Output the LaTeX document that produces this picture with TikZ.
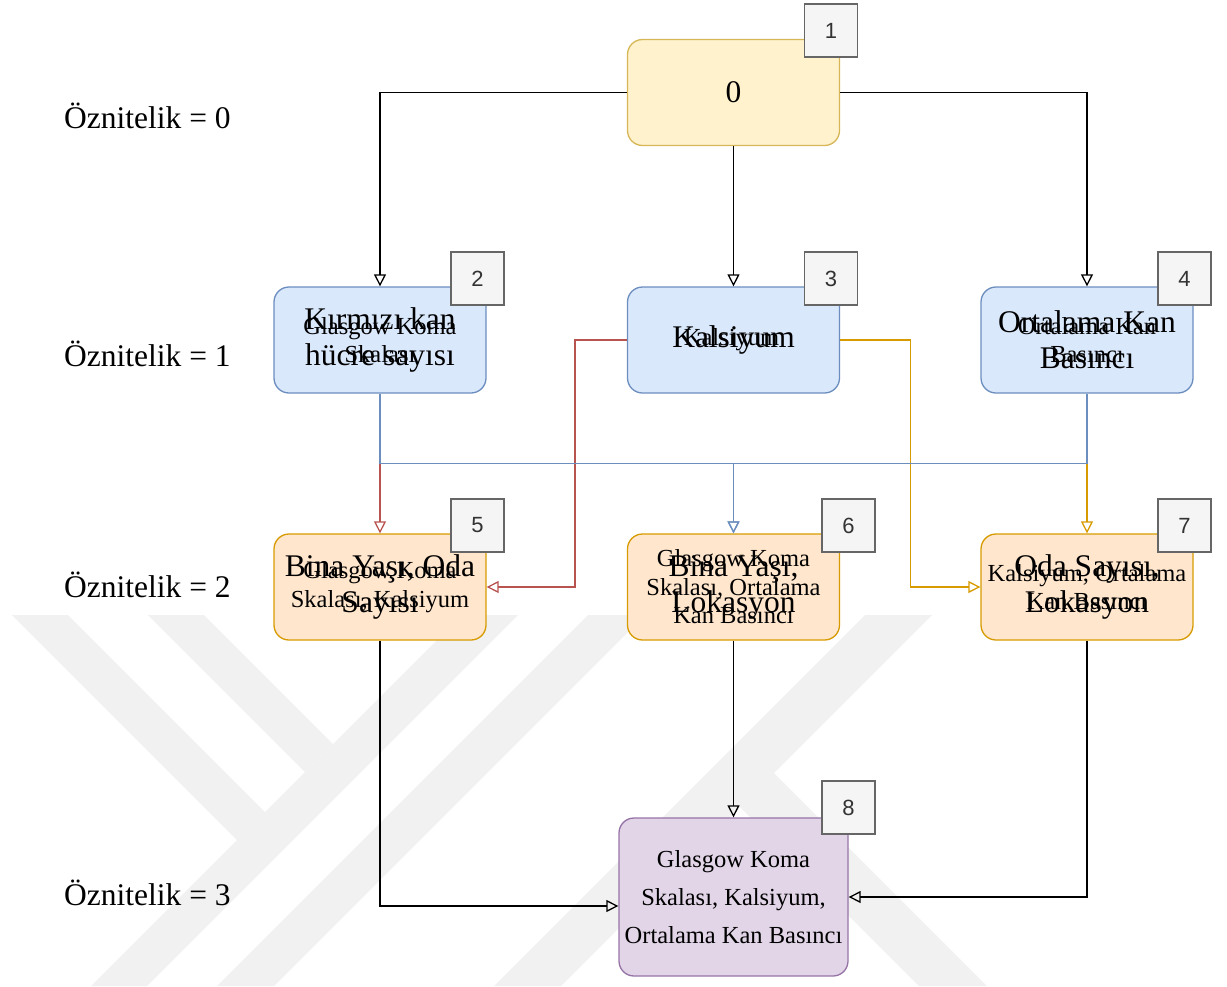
\documentclass[tikz,border=0pt]{standalone}
\usepackage{fontspec}
\setmainfont{Liberation Serif}
\newfontfamily\badgefont{Liberation Sans}
\usetikzlibrary{arrows.meta}

\definecolor{wmark}{RGB}{241,241,241}
\definecolor{yelfill}{HTML}{FFF2CC}\definecolor{yeldraw}{HTML}{D6B656}
\definecolor{blufill}{HTML}{DAE8FC}\definecolor{bludraw}{HTML}{6C8EBF}
\definecolor{orafill}{HTML}{FFE6CC}\definecolor{oradraw}{HTML}{D79B00}
\definecolor{purfill}{HTML}{E1D5E7}\definecolor{purdraw}{HTML}{9673A6}
\definecolor{rededge}{HTML}{B85450}
\definecolor{badgefill}{HTML}{F5F5F5}\definecolor{badgedraw}{HTML}{666666}
\definecolor{badgetext}{HTML}{333333}

\tikzset{
  box/.style={draw, rounded corners=15pt, line width=1.3pt, inner sep=0pt,
    minimum width=212pt, minimum height=106pt},
  levelbox/.style={box, fill=yelfill, draw=yeldraw},
  attrbox/.style={box, fill=blufill, draw=bludraw},
  pairbox/.style={box, fill=orafill, draw=oradraw},
  triplebox/.style={box, fill=purfill, draw=purdraw, minimum width=229pt, minimum height=158pt},
  badge/.style={draw=badgedraw, fill=badgefill, line width=1.2pt, minimum width=53pt,
    minimum height=53pt, inner sep=0pt, text=badgetext, font=\badgefont\fontsize{22}{26}\selectfont},
  bigtxt/.style={align=center, inner sep=0pt, font=\fontsize{31.5}{36}\selectfont},
  smalltxt/.style={align=center, inner sep=0pt, font=\fontsize{24.5}{28.5}\selectfont},
  lvl/.style={anchor=base west, inner sep=0pt, font=\fontsize{31.5}{36}\selectfont},
  conn/.style={line width=1.3pt, -{Triangle[open, length=12pt, width=12pt]}},
}

\begin{document}
\begin{tikzpicture}[x=1pt, y=-1pt]
\useasboundingbox (0,0) rectangle (1227,986);

% faint striped emblem in the lower half
\begin{scope}[fill=wmark]
  \fill (462,615) -- (518,615) -- (147,986) -- (91,986) -- cycle;
  \fill (588,615) -- (645,615) -- (274,986) -- (217,986) -- cycle;
  \fill (12,615) -- (68,615) -- (266,813) -- (238,841) -- cycle;
  \fill (148,615) -- (204,615) -- (333,744) -- (305,772) -- cycle;
  \fill (865,615) -- (932,615) -- (561,986) -- (494,986) -- cycle;
  \fill (738,805) -- (772,771) -- (987,986) -- (919,986) -- cycle;
\end{scope}

% level labels
\node[lvl] (l0) at (64,128) {Öznitelik = 0};
\node[lvl] (l1) at (64,366) {Öznitelik = 1};
\node[lvl] (l2) at (64,597) {Öznitelik = 2};
\node[lvl] (l3) at (64,905) {Öznitelik = 3};

% boxes
\node[levelbox] (b0) at (733.5,92.5) {};
\node[bigtxt] at (b0) {0};

\node[attrbox] (b2) at (380,340) {};
\node[smalltxt] at (b2) {Glasgow Koma\\Skalası};
\node[bigtxt] at (b2) {Kırmızı kan\\hücre sayısı};

\node[attrbox] (b3) at (733.5,340) {};
\node[smalltxt] at ([xshift=-2pt]b3) {Kalsiyum};
\node[bigtxt] at (b3) {Kalsiyum};

\node[attrbox] (b4) at (1087,340) {};
\node[smalltxt] at (b4) {Ortalama Kan\\Basıncı};
\node[bigtxt] at (b4) {Ortalama Kan\\Basıncı};

\node[pairbox] (b5) at (380,587) {};
\node[smalltxt] at (b5) {Glasgow Koma\\Skalası, Kalsiyum};
\node[bigtxt] at (b5) {Bina Yaşı, Oda\\Sayısı};

\node[pairbox] (b6) at (733.5,587) {};
\node[smalltxt] at (b6) {Glasgow Koma\\Skalası, Ortalama\\Kan Basıncı};
\node[bigtxt] at (b6) {Bina Yaşı,\\Lokasyon};

\node[pairbox] (b7) at (1087,587) {};
\node[smalltxt] at (b7) {Kalsiyum, Ortalama\\Kan Basıncı};
\node[bigtxt] at (b7) {Oda Sayısı,\\Lokasyon};

\node[triplebox] (b8) at (733.5,897) {};
\node[align=center, inner sep=0pt, font=\fontsize{24.5}{38}\selectfont] at (b8)
  {Glasgow Koma\\Skalası, Kalsiyum,\\Ortalama\ Kan\ Basıncı};

% connectors
\draw[conn] (b0.west) -| (b2.north);
\draw[conn] (b0.south) -- (b3.north);
\draw[conn] (b0.east) -| (b4.north);

\draw[conn, rededge] (b2.south) -- (b5.north);
\draw[conn, oradraw] (b4.south) -- (b7.north);
\draw[conn, rededge] (b3.west) -- ++(-52,0) |- (b5.east);
\draw[conn, oradraw] (b3.east) -- ++(70,0) |- (b7.west);
\draw[conn, bludraw] (b2.south) -- ++(0,70) -| (b6.north);
\draw[conn, bludraw] (b4.south) -- ++(0,70) -| (b6.north);

\draw[conn] (b5.south) |- ([yshift=-9pt]b8.west);
\draw[conn] (b6.south) -- (b8.north);
\draw[conn] (b7.south) |- (b8.east);

% numbered badges
\node[badge] (n1) at (831,30.5) {1};
\node[badge] (n2) at (477.5,278.5) {2};
\node[badge] (n3) at (831,278.5) {3};
\node[badge] (n4) at (1184.5,278.5) {4};
\node[badge] (n5) at (477.5,525.5) {5};
\node[badge] (n6) at (848.5,525.5) {6};
\node[badge] (n7) at (1184.5,525.5) {7};
\node[badge] (n8) at (848.5,807.5) {8};
\end{tikzpicture}
\end{document}
